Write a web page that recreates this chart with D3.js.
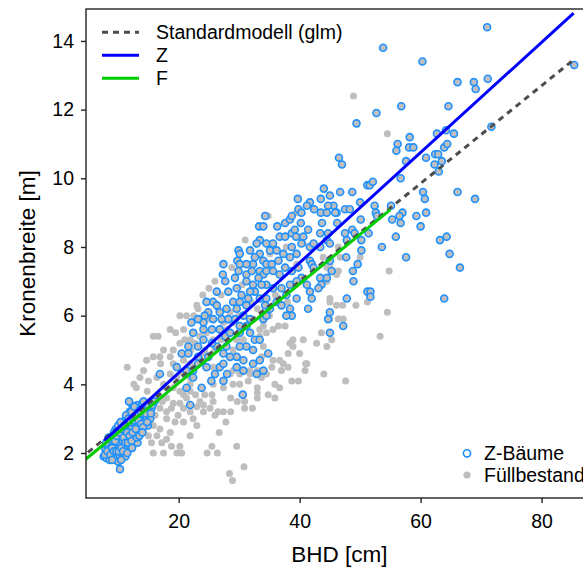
<!DOCTYPE html>
<html>
<head>
<meta charset="utf-8">
<script src="https://cdn.jsdelivr.net/npm/d3@7"></script>
<style>
  body { margin: 0; background: #fff; }
  text { font-family: "Liberation Sans", Arial, sans-serif; fill: #000; }
</style>
</head>
<body>
<div id="chart"></div>
<script>
// Z-Bäume (BHD in cm, Kronenbreite in m)
var zBaeume = [
  [71.0,14.4],[53.8,13.8],[60.3,13.4],[66.1,12.8],[68.8,12.8],[69.1,12.6],[71.1,12.9],[85.4,13.3],
  [56.8,12.1],[52.7,11.9],[64.6,12.1],[49.4,11.6],[71.7,11.5],[62.7,11.3],[64.2,11.4],[65.5,11.3],
  [56.2,11.0],[58.2,11.2],[58.1,10.9],[58.8,10.9],[56.0,10.8],[63.9,10.9],[64.4,11.0],[60.9,10.6],
  [57.6,10.5],[62.4,10.7],[62.9,10.7],[63.5,10.5],[62.3,10.4],[63.0,10.2],[56.7,10.0],[51.2,9.8],
  [51.6,9.8],[52.1,9.9],[48.7,9.6],[60.4,9.6],[60.7,9.4],[66.1,9.6],[69.0,9.4],[50.0,9.3],
  [55.1,9.2],[52.4,9.2],[52.6,9.0],[52.8,8.9],[57.0,9.0],[59.3,8.9],[60.9,9.0],[55.3,8.8],
  [56.5,8.9],[56.7,8.7],[50.1,8.8],[60.0,8.6],[48.7,8.5],[49.1,8.4],[51.4,8.4],[55.9,8.3],
  [50.2,8.2],[63.2,8.2],[64.3,8.3],[53.6,8.0],
  [45.0,9.5],[45.6,9.2],[46.1,9.0],[47.5,9.1],[48.3,9.1],[46.2,8.7],[47.5,8.4],[50.2,7.9],
  [47.8,8.2],[47.7,7.7],[45.0,7.6],[45.3,7.3],[57.6,7.7],[48.8,7.3],[49.6,7.5],[48.9,7.0],
  [64.8,7.8],[66.5,7.4],[51.2,6.7],[51.7,6.7],[51.7,6.55],[47.8,6.5],[63.9,6.5],[45.0,6.1],
  [47.2,5.7],[45.0,5.5],
  [46.5,10.6],[47.0,10.4],[44.0,9.7],[46.7,9.6],[39.7,9.4],[41.7,9.3],[43.5,9.4],[39.8,9.1],
  [40.3,9.0],[41.2,9.2],[42.4,9.1],[43.5,9.0],[44.7,9.2],[44.5,9.0],[45.9,9.0],[34.3,8.9],
  [33.3,8.6],[34.0,8.6],[36.3,8.6],[37.6,8.7],[38.4,8.8],[38.7,8.9],[40.2,8.7],[43.7,8.7],
  [41.4,8.5],[44.7,8.4],[34.5,8.1],[35.6,8.1],[36.7,8.3],[37.6,8.3],[38.7,8.4],[39.2,8.5],
  [39.4,8.3],[40.6,8.3],[41.7,8.0],[43.4,8.4],[44.5,8.2],[45.0,8.1],[33.4,8.2],[33.4,7.8],
  [34.0,7.6],[35.1,7.9],[36.2,7.9],[37.3,7.8],[38.7,8.0],[39.5,7.8],[40.3,8.1],[42.3,8.1],
  [43.4,8.0],[34.5,7.5],[35.4,7.5],[36.5,7.6],[37.6,7.4],[38.4,7.7],[39.8,7.4],[41.7,7.6],
  [42.0,7.5],[42.3,7.4],[33.4,7.3],[34.0,7.2],[34.5,7.3],[35.6,7.3],[36.7,7.2],[38.7,7.3],
  [40.3,7.1],[41.2,6.9],[43.4,7.1],[43.6,6.9],[44.5,7.1],[43.1,6.8],[41.7,6.7],[42.0,6.5],
  [34.5,6.9],[35.6,6.8],[37.0,6.8],[37.8,6.6],[38.4,6.9],[39.5,6.5],[33.4,6.5],[34.5,6.5],
  [34.3,6.3],[36.2,6.4],[37.0,6.3],[39.5,7.0],[41.4,6.2],[38.4,6.2],[38.7,6.0],[37.8,6.0],
  [44.7,5.9],[34.0,5.9],[35.1,6.2],[34.8,4.9],
  [29.9,7.9],[30.1,7.8],[29.7,7.6],[31.8,7.9],[32.9,8.1],[32.6,7.7],[32.3,7.5],[31.2,7.5],
  [30.1,7.5],[29.9,7.3],[27.4,7.5],[27.3,7.2],[27.7,7.0],[29.3,7.1],[31.2,7.2],[32.1,7.3],
  [33.2,7.1],[31.2,7.0],[32.3,6.9],[33.7,6.9],[32.6,6.7],[31.8,6.7],[30.4,6.6],[31.5,6.5],
  [29.6,6.8],[28.2,6.7],[26.3,6.7],[25.7,6.4],[24.6,6.4],[24.9,6.1],[26.3,6.3],[26.8,6.1],
  [27.9,6.2],[29.0,6.4],[29.6,6.2],[30.1,6.4],[31.2,6.3],[30.7,6.0],[29.3,5.9],[28.2,5.9],
  [27.1,5.9],[25.7,5.9],[24.3,6.0],[24.1,5.8],[23.2,5.9],[22.1,5.8],[25.5,5.6],[24.1,5.6],
  [22.4,5.5],[26.8,5.6],[27.7,5.4],[28.5,5.5],[30.1,5.7],[30.1,5.5],[31.2,5.7],[31.8,5.5],
  [32.6,5.3],[33.4,5.3],[31.8,5.9],[34.5,6.0],[32.3,5.0],[31.2,5.1],[30.1,5.1],[29.6,4.8],
  [30.7,4.7],[32.3,4.6],[33.4,4.7],[27.9,5.1],[27.4,4.9],[28.5,4.8],[26.3,5.1],[25.5,5.2],
  [24.1,5.3],[23.2,5.1],[21.6,5.1],[20.5,4.9],[21.6,4.9],[23.2,4.8],[24.9,4.8],[23.2,4.6],
  [24.6,4.5],[26.8,4.5],[27.4,4.6],[29.6,4.5],[30.7,4.4],[32.9,4.3],[34.0,4.4],[16.9,4.3],
  [19.7,4.5],[21.3,4.4],[22.4,4.4],
  [30.6,3.7],[27.4,4.1],[26.0,4.3],[25.4,4.1],[28.0,4.3],[23.8,3.9],
  [11.8,3.5],[14.2,3.5],[12.5,3.3],[21.3,3.9],[21.9,3.4],[22.4,4.2],[10.3,1.53],
  // dichter Haufen kleiner Z-Bäume
  [7.6,1.9],[7.9,2.1],[8.1,1.85],[8.3,2.2],[8.5,2.0],[8.6,1.8],[8.8,2.3],[8.9,2.05],
  [9.1,1.9],[9.2,2.2],[9.4,2.45],[9.5,2.0],[9.7,2.3],[9.8,1.85],[9.9,2.6],[10.0,2.15],
  [10.1,2.4],[10.2,1.95],[10.3,2.7],[10.4,2.25],[10.5,2.5],[10.6,2.0],[10.7,2.85],[10.8,2.35],
  [10.9,2.6],[11.0,2.1],[11.1,2.95],[11.2,2.45],[11.3,2.75],[11.4,2.2],[11.5,3.05],[11.6,2.55],
  [11.7,2.35],[11.8,2.85],[11.9,3.2],[12.0,2.65],[12.1,2.45],[12.2,3.0],[12.3,2.75],[12.4,3.35],
  [12.5,2.55],[12.6,3.1],[12.7,2.85],[12.8,2.4],[12.9,3.25],[13.0,2.95],[13.1,2.65],[13.2,3.4],
  [13.3,3.1],[13.5,2.8],[13.6,3.3],[13.7,3.0],[13.9,2.6],[14.0,3.45],[14.1,3.15],[14.3,2.9],
  [14.5,3.35],[14.7,3.05],[14.9,2.8],[15.1,3.2],[15.3,3.0],[15.5,3.3],[10.0,1.75],[11.2,1.9],
  [12.0,2.2],[13.2,2.3],[8.4,2.45],[9.6,2.7],[11.8,3.5],[12.5,3.3],[14.2,3.5],[10.0,2.8],
  [7.8,1.95],[8.0,2.3],[8.2,2.05],[8.7,1.95],[8.9,2.45],[9.0,2.15],[9.3,2.05],[9.3,2.6],
  [9.5,2.35],[9.7,2.05],[9.8,2.5],[10.1,2.05],[10.2,2.6],[10.4,2.9],[10.5,2.15],[10.6,2.7],
  [10.8,2.05],[10.9,2.45],[11.0,2.8],[11.2,2.3],[11.3,3.1],[11.5,2.6],[11.6,2.3],[11.7,3.0],
  [11.9,2.5],[12.0,2.9],[12.2,2.35],[12.2,3.2],[12.4,2.6],[12.6,2.95],[12.7,3.35],[12.9,2.7],
  [13.0,3.1],[13.1,2.45],[13.4,2.95],[13.5,3.25],[13.8,3.15],[13.8,2.85],[14.1,2.75],[14.3,3.25],
  [14.6,3.15],[14.8,2.9],[15.0,3.35],[15.4,3.15],[15.7,3.4],[16.0,3.5],[9.0,1.8],[10.5,1.8],
  [11.5,2.0],[12.3,2.15],[13.5,2.5],[14.0,2.6]
];

// Füllbestand
var fuellbestand = [
  [48.9,12.4],[54.5,11.3],[34.8,8.9],[39.4,9.0],
  [46.4,8.0],[50.0,7.7],[46.4,7.3],[54.8,7.3],[46.1,6.3],[47.1,6.3],[49.3,6.3],[51.2,6.4],
  [45.0,6.4],[54.5,6.1],[46.4,5.9],[53.3,5.4],[45.3,5.3],
  [40.0,8.3],[39.5,7.5],[44.5,7.4],[46.1,7.2],[44.5,7.0],[46.7,7.7],[45.0,6.5],[47.2,5.9],
  [45.0,5.9],[43.6,5.5],[44.5,5.1],[42.8,5.2],[40.6,5.3],[38.9,5.3],[38.4,5.2],[36.5,5.7],
  [37.6,5.7],[34.0,5.7],[34.5,5.5],[35.6,5.6],[38.9,5.1],[40.0,4.9],[38.1,4.9],[36.7,4.7],
  [35.6,4.7],[34.0,5.1],[33.7,4.8],[41.2,4.6],[37.3,4.6],[33.4,5.4],
  [24.1,3.2],[25.2,3.3],[26.0,3.1],[26.5,3.2],[27.4,3.2],[28.6,3.2],[25.7,3.5],[23.5,3.5],
  [26.7,2.6],[25.5,2.2],[24.7,2.0],[26.4,2.0],[29.6,2.2],[30.8,1.6],[28.4,1.4],[28.9,1.2],
  [28.6,3.6],[29.7,3.5],[30.9,3.5],[30.9,3.3],[32.2,3.3],[33.0,3.6],[33.0,3.75],[33.0,3.9],
  [33.7,4.2],[34.8,3.7],[35.9,3.6],[34.5,4.3],[35.9,4.0],[36.7,3.9],[37.0,4.4],[38.1,4.5],
  [38.7,4.1],[39.8,4.1],[40.9,4.4],[41.0,4.6],[44.0,4.3],[47.6,4.1],[30.1,4.0],[31.5,4.1],
  [29.0,4.0],[28.5,4.3],[30.1,4.3],[31.8,4.3],[33.0,4.4],[35.4,4.5],[24.3,3.7],[25.5,3.7],
  [24.1,3.4],
  [15.8,5.4],[16.6,5.4],[18.6,5.6],[20.8,5.6],[21.3,6.0],[23.0,6.3],[20.2,5.2],[19.1,5.0],
  [18.6,4.8],[17.5,5.0],[16.9,4.8],[15.8,4.8],[14.7,4.7],[20.8,4.7],[20.2,6.0],[22.7,5.2],
  [21.9,5.3],[24.6,5.5],[29.0,5.8],[27.4,5.8],[30.7,5.3],[32.3,5.9],[33.4,5.6],[29.6,5.3],
  [29.0,5.0],[25.7,5.3],[24.3,5.0],[21.9,4.6],[19.1,4.6],[25.7,4.5],[29.0,4.4],[31.8,4.4],
  [14.2,4.4],[13.6,4.2],[15.0,4.1],[16.4,4.2],[18.6,4.3],[19.7,4.2],[20.8,4.3],[17.5,4.0],
  [19.1,3.9],[20.2,3.8],[21.9,4.0],[18.0,3.6],[19.1,3.45],[20.2,3.45],[21.3,3.6],[18.8,3.3],
  [19.9,3.1],[20.8,3.3],[21.9,3.2],[23.0,3.35],[18.0,3.0],[19.4,2.9],[20.8,2.9],[22.4,3.0],
  [15.8,2.8],[16.9,2.7],[18.6,2.6],[16.4,2.5],[18.0,2.4],[15.5,2.3],[17.2,2.3],[18.8,2.2],
  [20.2,2.2],[15.8,2.0],[17.5,2.0],[19.7,2.0],[21.9,2.5],[15.0,2.5],[14.2,2.7],[16.1,3.1],
  [16.9,3.3],[18.0,3.2],[15.3,3.45],[16.4,3.55],[20.5,2.0],
  [35.1,7.8],[37.8,8.0],[40.6,8.1],[43.9,7.7],[45.0,7.5],[30.1,7.8],[23.2,6.2],[11.5,4.5],
  [23.5,4.6],[24.6,4.5],[21.9,4.2],[18.0,3.9],[21.9,3.8],[20.8,3.7],[25.7,4.0],[27.4,3.9],
  [26.0,7.0],[28.8,7.4],[31.0,8.2],[25.0,6.8],[27.0,6.6],[33.0,6.2],[30.5,6.9],[22.5,6.0],[24.0,6.6],
  [22.0,5.0],[23.5,5.4],[26.0,5.0],[27.0,5.3],[28.0,5.6],[25.0,5.9],[26.5,6.2],[21.0,5.3],
  [19.5,5.5],[24.0,4.9],[28.5,6.1],[30.0,6.0],[32.0,6.4],[35.0,6.0],[36.0,6.6],[38.0,6.4],
  [17.0,4.6],[13.0,3.9],[12.6,4.0],[14.8,3.8],[17.3,3.5],[22.8,3.7],[23.0,2.8],[27.8,2.9]
];

// Regressionslinien (Endpunkte)
var glmLine = [[5.0, 2.02], [85.5, 13.48]];
var zLine = [[7.7, 2.36], [85.3, 14.81]];
var fLine = [[4.5, 1.80], [55.0, 9.09]];

var xTicks = [20, 40, 60, 80];
var yTicks = [2, 4, 6, 8, 10, 12, 14];

var lineLegend = [
  {label: "Standardmodell (glm)", color: "#4D4D4D", dash: "6,5"},
  {label: "Z", color: "#0000FF", dash: null},
  {label: "F", color: "#00CD00", dash: null}
];
var pointLegend = ["Z-Bäume", "Füllbestand"];

var svgWidth = 583;
var svgHeight = 575;

var margin = {top: 9, left: 86};
var width = 507;   // plot box runs past the right edge of the picture
var height = 489;

var svg = d3.select("#chart")
  .append("svg")
  .attr("width", svgWidth)
  .attr("height", svgHeight);

var chartGroup = svg.append("g")
  .attr("transform", `translate(${margin.left}, ${margin.top})`);

var xScale = d3.scaleLinear()
  .domain([4.68, 88.5])
  .range([0, width]);

var yScale = d3.scaleLinear()
  .domain([0.69, 14.93])
  .range([height, 0]);

svg.append("defs").append("clipPath")
  .attr("id", "plotClip")
  .append("rect")
  .attr("width", width)
  .attr("height", height);

// axes
var xAxis = d3.axisBottom(xScale).tickValues(xTicks).tickSize(5).tickSizeOuter(0).tickPadding(11);
var yAxis = d3.axisLeft(yScale).tickValues(yTicks).tickSize(5).tickSizeOuter(0).tickPadding(7);

var gx = chartGroup.append("g")
  .attr("transform", `translate(0, ${height})`)
  .call(xAxis);
var gy = chartGroup.append("g")
  .call(yAxis);

[gx, gy].forEach(function(g) {
  g.select(".domain").remove();
  g.selectAll("line").attr("stroke", "#222").attr("stroke-width", 1.4);
  g.selectAll("text").attr("font-size", "19.5px").attr("fill", "#000")
    .attr("font-family", "Liberation Sans, Arial, sans-serif");
});

var plot = chartGroup.append("g").attr("clip-path", "url(#plotClip)");

// Füllbestand points
plot.selectAll(".fpt")
  .data(fuellbestand)
  .enter()
  .append("circle")
  .attr("class", "fpt")
  .attr("cx", d => xScale(d[0]))
  .attr("cy", d => yScale(d[1]))
  .attr("r", 3.5)
  .attr("fill", "#BEBEBE");

// Z-Bäume points
plot.selectAll(".zpt")
  .data(zBaeume)
  .enter()
  .append("circle")
  .attr("class", "zpt")
  .attr("cx", d => xScale(d[0]))
  .attr("cy", d => yScale(d[1]))
  .attr("r", 3.5)
  .attr("fill", "#BEBEBE")
  .attr("stroke", "#1E90FF")
  .attr("stroke-width", 1.6);

var line = d3.line()
  .x(d => xScale(d[0]))
  .y(d => yScale(d[1]));

plot.append("path")
  .datum(glmLine)
  .attr("d", line)
  .attr("fill", "none")
  .attr("stroke", "#4D4D4D")
  .attr("stroke-width", 3)
  .attr("stroke-dasharray", "6,5");

plot.append("path")
  .datum(zLine)
  .attr("d", line)
  .attr("fill", "none")
  .attr("stroke", "#0000FF")
  .attr("stroke-width", 3);

plot.append("path")
  .datum(fLine)
  .attr("d", line)
  .attr("fill", "none")
  .attr("stroke", "#00CD00")
  .attr("stroke-width", 3);

// box
chartGroup.append("rect")
  .attr("width", width)
  .attr("height", height)
  .attr("fill", "none")
  .attr("stroke", "#222")
  .attr("stroke-width", 1.4);

// line legend, top left
var lg = chartGroup.selectAll(".lleg")
  .data(lineLegend)
  .enter()
  .append("g")
  .attr("class", "lleg")
  .attr("transform", (d, i) => `translate(16, ${23.3 + i * 23})`);

lg.append("line")
  .attr("x1", 0).attr("x2", 37)
  .attr("stroke", d => d.color)
  .attr("stroke-width", 3)
  .attr("stroke-dasharray", d => d.dash);

lg.append("text")
  .attr("x", 54)
  .attr("dy", "0.35em")
  .attr("font-size", "19.5px")
  .text(d => d.label);

// point legend, bottom right
var pg = chartGroup.selectAll(".pleg")
  .data(pointLegend)
  .enter()
  .append("g")
  .attr("class", "pleg")
  .attr("transform", (d, i) => `translate(381, ${444.3 + i * 21.7})`);

pg.append("circle")
  .attr("r", 3.6)
  .attr("fill", (d, i) => i == 0 ? "none" : "#BEBEBE")
  .attr("stroke", (d, i) => i == 0 ? "#1E90FF" : "none")
  .attr("stroke-width", 1.6);

pg.append("text")
  .attr("x", 17)
  .attr("dy", "0.35em")
  .attr("font-size", "19.5px")
  .text(d => d);

// axis titles
chartGroup.append("text")
  .attr("x", width / 2)
  .attr("y", height + 64)
  .attr("text-anchor", "middle")
  .attr("font-size", "22.5px")
  .text("BHD [cm]");

chartGroup.append("text")
  .attr("transform", "rotate(-90)")
  .attr("x", 0 - height / 2)
  .attr("y", 0 - margin.left + 27)
  .attr("dy", "0.35em")
  .attr("text-anchor", "middle")
  .attr("font-size", "22.5px")
  .text("Kronenbreite [m]");
</script>
</body>
</html>
